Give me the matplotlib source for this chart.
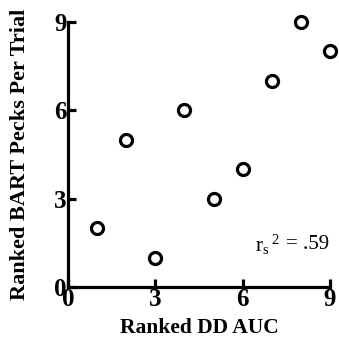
import matplotlib
matplotlib.use("Agg")
import matplotlib.pyplot as plt

# ranked values
dd_auc_rank = [1, 2, 3, 4, 5, 6, 7, 8, 9]
bart_pecks_rank = [2, 5, 1, 6, 3, 4, 7, 9, 8]
ticks = [0, 3, 6, 9]
rs2_label = ".59"

plt.rcParams['font.family'] = ['Liberation Serif', 'DejaVu Serif']
plt.rcParams['mathtext.fontset'] = 'custom'
plt.rcParams['mathtext.rm'] = 'Liberation Serif'
plt.rcParams['mathtext.it'] = 'Liberation Serif'

fig = plt.figure(figsize=(3.39, 3.46), dpi=100)
ax = fig.add_axes([0.2006, 0.1705, 0.7729, 0.7659])

ax.scatter(dd_auc_rank, bart_pecks_rank, s=75, facecolors='white',
           edgecolors='black', linewidths=2.3, zorder=3, clip_on=False)

ax.set_xlim(0, 9)
ax.set_ylim(0, 9)
ax.set_xticks(ticks)
ax.set_yticks(ticks)
ax.set_xticklabels([str(t) for t in ticks], fontsize=18, fontweight='bold')
ax.set_yticklabels([str(t) for t in ticks], fontsize=18, fontweight='bold')
ax.tick_params(direction='in', length=5.5, width=2.3, pad=1)

for side in ['top', 'right']:
    ax.spines[side].set_visible(False)
for side in ['left', 'bottom']:
    ax.spines[side].set_linewidth(2.3)

ax.set_xlabel('Ranked DD AUC', fontsize=15.5, fontweight='bold', labelpad=5)
ax.set_ylabel('Ranked BART Pecks Per Trial', fontsize=16, fontweight='bold')
ax.yaxis.set_label_coords(-0.145, 0.5)

# r_s^2 annotation, built from pieces so spacing matches
ax.text(0.995, 0.16, '= ' + rs2_label, transform=ax.transAxes,
        ha='right', va='center', fontsize=15)
ax.text(0.81, 0.16, r'$\mathrm{r}_{\mathrm{s}}{}^{\;2}$', transform=ax.transAxes,
        ha='right', va='center', fontsize=15)

fig.savefig('out.png', dpi=100)
